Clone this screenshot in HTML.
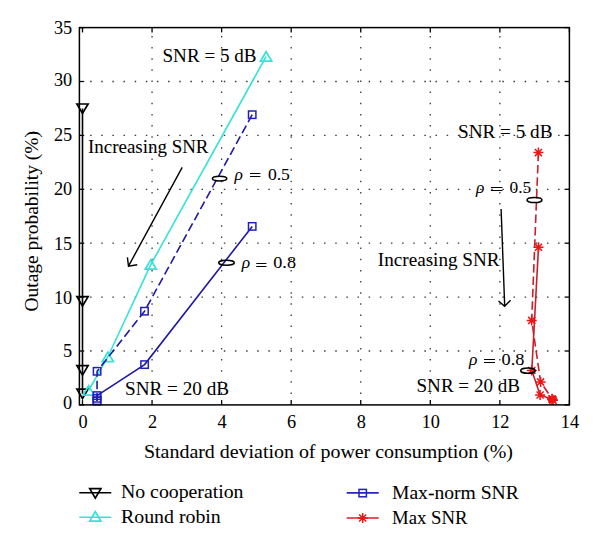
<!DOCTYPE html>
<html><head><meta charset="utf-8"><style>
html,body{margin:0;padding:0;background:#fff;}
svg{display:block;}
text{font-family:"Liberation Serif", serif;fill:#000;stroke:#000;stroke-width:0.05px;}
</style></head><body>
<svg width="600" height="548" viewBox="0 0 600 548">
<rect width="600" height="548" fill="#fff"/>
<path d="M152.06,392.45v1.5M152.06,381.30v1.5M152.06,370.16v1.5M152.06,359.02v1.5M152.06,347.88v1.5M152.06,336.73v1.5M152.06,325.59v1.5M152.06,314.45v1.5M152.06,303.31v1.5M152.06,292.16v1.5M152.06,281.02v1.5M152.06,269.88v1.5M152.06,258.74v1.5M152.06,247.59v1.5M152.06,236.45v1.5M152.06,225.31v1.5M152.06,214.17v1.5M152.06,203.02v1.5M152.06,191.88v1.5M152.06,180.74v1.5M152.06,169.60v1.5M152.06,158.45v1.5M152.06,147.31v1.5M152.06,136.17v1.5M152.06,125.03v1.5M152.06,113.88v1.5M152.06,102.74v1.5M152.06,91.60v1.5M152.06,80.46v1.5M152.06,69.31v1.5M152.06,58.17v1.5M152.06,47.03v1.5M152.06,35.89v1.5M221.62,392.45v1.5M221.62,381.30v1.5M221.62,370.16v1.5M221.62,359.02v1.5M221.62,347.88v1.5M221.62,336.73v1.5M221.62,325.59v1.5M221.62,314.45v1.5M221.62,303.31v1.5M221.62,292.16v1.5M221.62,281.02v1.5M221.62,269.88v1.5M221.62,258.74v1.5M221.62,247.59v1.5M221.62,236.45v1.5M221.62,225.31v1.5M221.62,214.17v1.5M221.62,203.02v1.5M221.62,191.88v1.5M221.62,180.74v1.5M221.62,169.60v1.5M221.62,158.45v1.5M221.62,147.31v1.5M221.62,136.17v1.5M221.62,125.03v1.5M221.62,113.88v1.5M221.62,102.74v1.5M221.62,91.60v1.5M221.62,80.46v1.5M221.62,69.31v1.5M221.62,58.17v1.5M221.62,47.03v1.5M221.62,35.89v1.5M291.18,392.45v1.5M291.18,381.30v1.5M291.18,370.16v1.5M291.18,359.02v1.5M291.18,347.88v1.5M291.18,336.73v1.5M291.18,325.59v1.5M291.18,314.45v1.5M291.18,303.31v1.5M291.18,292.16v1.5M291.18,281.02v1.5M291.18,269.88v1.5M291.18,258.74v1.5M291.18,247.59v1.5M291.18,236.45v1.5M291.18,225.31v1.5M291.18,214.17v1.5M291.18,203.02v1.5M291.18,191.88v1.5M291.18,180.74v1.5M291.18,169.60v1.5M291.18,158.45v1.5M291.18,147.31v1.5M291.18,136.17v1.5M291.18,125.03v1.5M291.18,113.88v1.5M291.18,102.74v1.5M291.18,91.60v1.5M291.18,80.46v1.5M291.18,69.31v1.5M291.18,58.17v1.5M291.18,47.03v1.5M291.18,35.89v1.5M360.74,392.45v1.5M360.74,381.30v1.5M360.74,370.16v1.5M360.74,359.02v1.5M360.74,347.88v1.5M360.74,336.73v1.5M360.74,325.59v1.5M360.74,314.45v1.5M360.74,303.31v1.5M360.74,292.16v1.5M360.74,281.02v1.5M360.74,269.88v1.5M360.74,258.74v1.5M360.74,247.59v1.5M360.74,236.45v1.5M360.74,225.31v1.5M360.74,214.17v1.5M360.74,203.02v1.5M360.74,191.88v1.5M360.74,180.74v1.5M360.74,169.60v1.5M360.74,158.45v1.5M360.74,147.31v1.5M360.74,136.17v1.5M360.74,125.03v1.5M360.74,113.88v1.5M360.74,102.74v1.5M360.74,91.60v1.5M360.74,80.46v1.5M360.74,69.31v1.5M360.74,58.17v1.5M360.74,47.03v1.5M360.74,35.89v1.5M430.30,392.45v1.5M430.30,381.30v1.5M430.30,370.16v1.5M430.30,359.02v1.5M430.30,347.88v1.5M430.30,336.73v1.5M430.30,325.59v1.5M430.30,314.45v1.5M430.30,303.31v1.5M430.30,292.16v1.5M430.30,281.02v1.5M430.30,269.88v1.5M430.30,258.74v1.5M430.30,247.59v1.5M430.30,236.45v1.5M430.30,225.31v1.5M430.30,214.17v1.5M430.30,203.02v1.5M430.30,191.88v1.5M430.30,180.74v1.5M430.30,169.60v1.5M430.30,158.45v1.5M430.30,147.31v1.5M430.30,136.17v1.5M430.30,125.03v1.5M430.30,113.88v1.5M430.30,102.74v1.5M430.30,91.60v1.5M430.30,80.46v1.5M430.30,69.31v1.5M430.30,58.17v1.5M430.30,47.03v1.5M430.30,35.89v1.5M499.86,392.45v1.5M499.86,381.30v1.5M499.86,370.16v1.5M499.86,359.02v1.5M499.86,347.88v1.5M499.86,336.73v1.5M499.86,325.59v1.5M499.86,314.45v1.5M499.86,303.31v1.5M499.86,292.16v1.5M499.86,281.02v1.5M499.86,269.88v1.5M499.86,258.74v1.5M499.86,247.59v1.5M499.86,236.45v1.5M499.86,225.31v1.5M499.86,214.17v1.5M499.86,203.02v1.5M499.86,191.88v1.5M499.86,180.74v1.5M499.86,169.60v1.5M499.86,158.45v1.5M499.86,147.31v1.5M499.86,136.17v1.5M499.86,125.03v1.5M499.86,113.88v1.5M499.86,102.74v1.5M499.86,91.60v1.5M499.86,80.46v1.5M499.86,69.31v1.5M499.86,58.17v1.5M499.86,47.03v1.5M499.86,35.89v1.5M90.09,351.00h1.5M101.23,351.00h1.5M112.38,351.00h1.5M123.52,351.00h1.5M134.66,351.00h1.5M145.81,351.00h1.5M156.95,351.00h1.5M168.09,351.00h1.5M179.23,351.00h1.5M190.38,351.00h1.5M201.52,351.00h1.5M212.66,351.00h1.5M223.80,351.00h1.5M234.94,351.00h1.5M246.09,351.00h1.5M257.23,351.00h1.5M268.37,351.00h1.5M279.51,351.00h1.5M290.66,351.00h1.5M301.80,351.00h1.5M312.94,351.00h1.5M324.08,351.00h1.5M335.23,351.00h1.5M346.37,351.00h1.5M357.51,351.00h1.5M368.65,351.00h1.5M379.80,351.00h1.5M390.94,351.00h1.5M402.08,351.00h1.5M413.22,351.00h1.5M424.37,351.00h1.5M435.51,351.00h1.5M446.65,351.00h1.5M457.80,351.00h1.5M468.94,351.00h1.5M480.08,351.00h1.5M491.22,351.00h1.5M502.37,351.00h1.5M513.51,351.00h1.5M524.65,351.00h1.5M535.79,351.00h1.5M546.94,351.00h1.5M558.08,351.00h1.5M90.09,297.10h1.5M101.23,297.10h1.5M112.38,297.10h1.5M123.52,297.10h1.5M134.66,297.10h1.5M145.81,297.10h1.5M156.95,297.10h1.5M168.09,297.10h1.5M179.23,297.10h1.5M190.38,297.10h1.5M201.52,297.10h1.5M212.66,297.10h1.5M223.80,297.10h1.5M234.94,297.10h1.5M246.09,297.10h1.5M257.23,297.10h1.5M268.37,297.10h1.5M279.51,297.10h1.5M290.66,297.10h1.5M301.80,297.10h1.5M312.94,297.10h1.5M324.08,297.10h1.5M335.23,297.10h1.5M346.37,297.10h1.5M357.51,297.10h1.5M368.65,297.10h1.5M379.80,297.10h1.5M390.94,297.10h1.5M402.08,297.10h1.5M413.22,297.10h1.5M424.37,297.10h1.5M435.51,297.10h1.5M446.65,297.10h1.5M457.80,297.10h1.5M468.94,297.10h1.5M480.08,297.10h1.5M491.22,297.10h1.5M502.37,297.10h1.5M513.51,297.10h1.5M524.65,297.10h1.5M535.79,297.10h1.5M546.94,297.10h1.5M558.08,297.10h1.5M90.09,243.20h1.5M101.23,243.20h1.5M112.38,243.20h1.5M123.52,243.20h1.5M134.66,243.20h1.5M145.81,243.20h1.5M156.95,243.20h1.5M168.09,243.20h1.5M179.23,243.20h1.5M190.38,243.20h1.5M201.52,243.20h1.5M212.66,243.20h1.5M223.80,243.20h1.5M234.94,243.20h1.5M246.09,243.20h1.5M257.23,243.20h1.5M268.37,243.20h1.5M279.51,243.20h1.5M290.66,243.20h1.5M301.80,243.20h1.5M312.94,243.20h1.5M324.08,243.20h1.5M335.23,243.20h1.5M346.37,243.20h1.5M357.51,243.20h1.5M368.65,243.20h1.5M379.80,243.20h1.5M390.94,243.20h1.5M402.08,243.20h1.5M413.22,243.20h1.5M424.37,243.20h1.5M435.51,243.20h1.5M446.65,243.20h1.5M457.80,243.20h1.5M468.94,243.20h1.5M480.08,243.20h1.5M491.22,243.20h1.5M502.37,243.20h1.5M513.51,243.20h1.5M524.65,243.20h1.5M535.79,243.20h1.5M546.94,243.20h1.5M558.08,243.20h1.5M90.09,189.30h1.5M101.23,189.30h1.5M112.38,189.30h1.5M123.52,189.30h1.5M134.66,189.30h1.5M145.81,189.30h1.5M156.95,189.30h1.5M168.09,189.30h1.5M179.23,189.30h1.5M190.38,189.30h1.5M201.52,189.30h1.5M212.66,189.30h1.5M223.80,189.30h1.5M234.94,189.30h1.5M246.09,189.30h1.5M257.23,189.30h1.5M268.37,189.30h1.5M279.51,189.30h1.5M290.66,189.30h1.5M301.80,189.30h1.5M312.94,189.30h1.5M324.08,189.30h1.5M335.23,189.30h1.5M346.37,189.30h1.5M357.51,189.30h1.5M368.65,189.30h1.5M379.80,189.30h1.5M390.94,189.30h1.5M402.08,189.30h1.5M413.22,189.30h1.5M424.37,189.30h1.5M435.51,189.30h1.5M446.65,189.30h1.5M457.80,189.30h1.5M468.94,189.30h1.5M480.08,189.30h1.5M491.22,189.30h1.5M502.37,189.30h1.5M513.51,189.30h1.5M524.65,189.30h1.5M535.79,189.30h1.5M546.94,189.30h1.5M558.08,189.30h1.5M90.09,135.40h1.5M101.23,135.40h1.5M112.38,135.40h1.5M123.52,135.40h1.5M134.66,135.40h1.5M145.81,135.40h1.5M156.95,135.40h1.5M168.09,135.40h1.5M179.23,135.40h1.5M190.38,135.40h1.5M201.52,135.40h1.5M212.66,135.40h1.5M223.80,135.40h1.5M234.94,135.40h1.5M246.09,135.40h1.5M257.23,135.40h1.5M268.37,135.40h1.5M279.51,135.40h1.5M290.66,135.40h1.5M301.80,135.40h1.5M312.94,135.40h1.5M324.08,135.40h1.5M335.23,135.40h1.5M346.37,135.40h1.5M357.51,135.40h1.5M368.65,135.40h1.5M379.80,135.40h1.5M390.94,135.40h1.5M402.08,135.40h1.5M413.22,135.40h1.5M424.37,135.40h1.5M435.51,135.40h1.5M446.65,135.40h1.5M457.80,135.40h1.5M468.94,135.40h1.5M480.08,135.40h1.5M491.22,135.40h1.5M502.37,135.40h1.5M513.51,135.40h1.5M524.65,135.40h1.5M535.79,135.40h1.5M546.94,135.40h1.5M558.08,135.40h1.5M90.09,81.50h1.5M101.23,81.50h1.5M112.38,81.50h1.5M123.52,81.50h1.5M134.66,81.50h1.5M145.81,81.50h1.5M156.95,81.50h1.5M168.09,81.50h1.5M179.23,81.50h1.5M190.38,81.50h1.5M201.52,81.50h1.5M212.66,81.50h1.5M223.80,81.50h1.5M234.94,81.50h1.5M246.09,81.50h1.5M257.23,81.50h1.5M268.37,81.50h1.5M279.51,81.50h1.5M290.66,81.50h1.5M301.80,81.50h1.5M312.94,81.50h1.5M324.08,81.50h1.5M335.23,81.50h1.5M346.37,81.50h1.5M357.51,81.50h1.5M368.65,81.50h1.5M379.80,81.50h1.5M390.94,81.50h1.5M402.08,81.50h1.5M413.22,81.50h1.5M424.37,81.50h1.5M435.51,81.50h1.5M446.65,81.50h1.5M457.80,81.50h1.5M468.94,81.50h1.5M480.08,81.50h1.5M491.22,81.50h1.5M502.37,81.50h1.5M513.51,81.50h1.5M524.65,81.50h1.5M535.79,81.50h1.5M546.94,81.50h1.5M558.08,81.50h1.5" stroke="#3a3a3a" stroke-width="1.3" fill="none"/>
<line x1="82.50" y1="404.9" x2="82.50" y2="400.09999999999997" stroke="#000" stroke-width="1.3"/>
<line x1="82.50" y1="27.6" x2="82.50" y2="32.4" stroke="#000" stroke-width="1.3"/>
<line x1="152.06" y1="404.9" x2="152.06" y2="400.09999999999997" stroke="#000" stroke-width="1.3"/>
<line x1="152.06" y1="27.6" x2="152.06" y2="32.4" stroke="#000" stroke-width="1.3"/>
<line x1="221.62" y1="404.9" x2="221.62" y2="400.09999999999997" stroke="#000" stroke-width="1.3"/>
<line x1="221.62" y1="27.6" x2="221.62" y2="32.4" stroke="#000" stroke-width="1.3"/>
<line x1="291.18" y1="404.9" x2="291.18" y2="400.09999999999997" stroke="#000" stroke-width="1.3"/>
<line x1="291.18" y1="27.6" x2="291.18" y2="32.4" stroke="#000" stroke-width="1.3"/>
<line x1="360.74" y1="404.9" x2="360.74" y2="400.09999999999997" stroke="#000" stroke-width="1.3"/>
<line x1="360.74" y1="27.6" x2="360.74" y2="32.4" stroke="#000" stroke-width="1.3"/>
<line x1="430.30" y1="404.9" x2="430.30" y2="400.09999999999997" stroke="#000" stroke-width="1.3"/>
<line x1="430.30" y1="27.6" x2="430.30" y2="32.4" stroke="#000" stroke-width="1.3"/>
<line x1="499.86" y1="404.9" x2="499.86" y2="400.09999999999997" stroke="#000" stroke-width="1.3"/>
<line x1="499.86" y1="27.6" x2="499.86" y2="32.4" stroke="#000" stroke-width="1.3"/>
<line x1="569.42" y1="404.9" x2="569.42" y2="400.09999999999997" stroke="#000" stroke-width="1.3"/>
<line x1="569.42" y1="27.6" x2="569.42" y2="32.4" stroke="#000" stroke-width="1.3"/>
<line x1="79.4" y1="404.90" x2="84.2" y2="404.90" stroke="#000" stroke-width="1.3"/>
<line x1="569.4" y1="404.90" x2="564.6" y2="404.90" stroke="#000" stroke-width="1.3"/>
<line x1="79.4" y1="351.00" x2="84.2" y2="351.00" stroke="#000" stroke-width="1.3"/>
<line x1="569.4" y1="351.00" x2="564.6" y2="351.00" stroke="#000" stroke-width="1.3"/>
<line x1="79.4" y1="297.10" x2="84.2" y2="297.10" stroke="#000" stroke-width="1.3"/>
<line x1="569.4" y1="297.10" x2="564.6" y2="297.10" stroke="#000" stroke-width="1.3"/>
<line x1="79.4" y1="243.20" x2="84.2" y2="243.20" stroke="#000" stroke-width="1.3"/>
<line x1="569.4" y1="243.20" x2="564.6" y2="243.20" stroke="#000" stroke-width="1.3"/>
<line x1="79.4" y1="189.30" x2="84.2" y2="189.30" stroke="#000" stroke-width="1.3"/>
<line x1="569.4" y1="189.30" x2="564.6" y2="189.30" stroke="#000" stroke-width="1.3"/>
<line x1="79.4" y1="135.40" x2="84.2" y2="135.40" stroke="#000" stroke-width="1.3"/>
<line x1="569.4" y1="135.40" x2="564.6" y2="135.40" stroke="#000" stroke-width="1.3"/>
<line x1="79.4" y1="81.50" x2="84.2" y2="81.50" stroke="#000" stroke-width="1.3"/>
<line x1="569.4" y1="81.50" x2="564.6" y2="81.50" stroke="#000" stroke-width="1.3"/>
<line x1="79.4" y1="27.60" x2="84.2" y2="27.60" stroke="#000" stroke-width="1.3"/>
<line x1="569.4" y1="27.60" x2="564.6" y2="27.60" stroke="#000" stroke-width="1.3"/>
<text x="83.00" y="427.7" font-size="18.3" text-anchor="middle">0</text>
<text x="152.56" y="427.7" font-size="18.3" text-anchor="middle">2</text>
<text x="222.12" y="427.7" font-size="18.3" text-anchor="middle">4</text>
<text x="291.68" y="427.7" font-size="18.3" text-anchor="middle">6</text>
<text x="361.24" y="427.7" font-size="18.3" text-anchor="middle">8</text>
<text x="430.80" y="427.7" font-size="18.3" text-anchor="middle">10</text>
<text x="500.36" y="427.7" font-size="18.3" text-anchor="middle">12</text>
<text x="569.92" y="427.7" font-size="18.3" text-anchor="middle">14</text>
<text x="72.2" y="409.05" font-size="18.3" text-anchor="end">0</text>
<text x="72.2" y="357.35" font-size="18.3" text-anchor="end">5</text>
<text x="72.2" y="304.40" font-size="18.3" text-anchor="end">10</text>
<text x="72.2" y="249.80" font-size="18.3" text-anchor="end">15</text>
<text x="72.2" y="195.30" font-size="18.3" text-anchor="end">20</text>
<text x="72.2" y="141.30" font-size="18.3" text-anchor="end">25</text>
<text x="72.2" y="85.75" font-size="18.3" text-anchor="end">30</text>
<text x="72.2" y="34.05" font-size="18.3" text-anchor="end">35</text>
<polyline points="82.50,108.60 82.50,301.20 82.50,370.30 82.50,393.70" fill="none" stroke="#000" stroke-width="1.6"/>
<path d="M76.90,104.00 L88.10,104.00 L82.50,113.40 Z" fill="none" stroke="#000" stroke-width="1.7" stroke-linejoin="miter"/>
<path d="M76.90,296.60 L88.10,296.60 L82.50,306.00 Z" fill="none" stroke="#000" stroke-width="1.7" stroke-linejoin="miter"/>
<path d="M76.90,365.70 L88.10,365.70 L82.50,375.10 Z" fill="none" stroke="#000" stroke-width="1.7" stroke-linejoin="miter"/>
<path d="M76.90,389.10 L88.10,389.10 L82.50,398.50 Z" fill="none" stroke="#000" stroke-width="1.7" stroke-linejoin="miter"/>
<polyline points="266.10,56.50 150.80,264.60 107.80,357.00 88.60,390.50" fill="none" stroke="#36e2d8" stroke-width="1.6"/>
<path d="M260.50,61.10 L271.70,61.10 L266.10,51.70 Z" fill="none" stroke="#36e2d8" stroke-width="1.7" stroke-linejoin="miter"/>
<path d="M145.20,269.20 L156.40,269.20 L150.80,259.80 Z" fill="none" stroke="#36e2d8" stroke-width="1.7" stroke-linejoin="miter"/>
<path d="M102.20,361.60 L113.40,361.60 L107.80,352.20 Z" fill="none" stroke="#36e2d8" stroke-width="1.7" stroke-linejoin="miter"/>
<path d="M83.00,395.10 L94.20,395.10 L88.60,385.70 Z" fill="none" stroke="#36e2d8" stroke-width="1.7" stroke-linejoin="miter"/>
<polyline points="252.20,114.70 144.50,311.20 97.10,371.30 97.00,400.80" fill="none" stroke="#2018a0" stroke-width="1.6" stroke-dasharray="8.5 3.9"/>
<polyline points="252.20,226.40 144.60,364.60 97.00,395.60 97.00,400.90" fill="none" stroke="#2018a0" stroke-width="1.6"/>
<rect x="248.50" y="111.00" width="7.40" height="7.40" fill="none" stroke="#2020c0" stroke-width="1.5"/>
<rect x="140.80" y="307.50" width="7.40" height="7.40" fill="none" stroke="#2020c0" stroke-width="1.5"/>
<rect x="93.40" y="367.60" width="7.40" height="7.40" fill="none" stroke="#2020c0" stroke-width="1.5"/>
<rect x="93.30" y="397.10" width="7.40" height="7.40" fill="none" stroke="#2020c0" stroke-width="1.5"/>
<rect x="248.50" y="222.70" width="7.40" height="7.40" fill="none" stroke="#2020c0" stroke-width="1.5"/>
<rect x="140.90" y="360.90" width="7.40" height="7.40" fill="none" stroke="#2020c0" stroke-width="1.5"/>
<rect x="93.30" y="391.90" width="7.40" height="7.40" fill="none" stroke="#2020c0" stroke-width="1.5"/>
<rect x="93.30" y="397.20" width="7.40" height="7.40" fill="none" stroke="#2020c0" stroke-width="1.5"/>
<rect x="93.30" y="394.60" width="7.40" height="7.40" fill="none" stroke="#2020c0" stroke-width="1.5"/>
<polyline points="538.40,152.60 531.70,320.40 540.60,381.90 552.40,399.40" fill="none" stroke="#c8202a" stroke-width="1.6" stroke-dasharray="8.5 3.9"/>
<polyline points="538.50,247.30 531.80,370.50 540.10,395.00 552.40,399.40" fill="none" stroke="#c8202a" stroke-width="1.6"/>
<path d="M533.40,152.60L543.40,152.60M534.86,149.06L541.94,156.14M538.40,147.60L538.40,157.60M541.94,149.06L534.86,156.14" stroke="#ee1414" stroke-width="1.5" fill="none"/>
<path d="M526.70,320.40L536.70,320.40M528.16,316.86L535.24,323.94M531.70,315.40L531.70,325.40M535.24,316.86L528.16,323.94" stroke="#ee1414" stroke-width="1.5" fill="none"/>
<path d="M535.60,381.90L545.60,381.90M537.06,378.36L544.14,385.44M540.60,376.90L540.60,386.90M544.14,378.36L537.06,385.44" stroke="#ee1414" stroke-width="1.5" fill="none"/>
<path d="M547.40,399.40L557.40,399.40M548.86,395.86L555.94,402.94M552.40,394.40L552.40,404.40M555.94,395.86L548.86,402.94" stroke="#ee1414" stroke-width="1.5" fill="none"/>
<path d="M533.50,247.30L543.50,247.30M534.96,243.76L542.04,250.84M538.50,242.30L538.50,252.30M542.04,243.76L534.96,250.84" stroke="#ee1414" stroke-width="1.5" fill="none"/>
<path d="M526.80,370.50L536.80,370.50M528.26,366.96L535.34,374.04M531.80,365.50L531.80,375.50M535.34,366.96L528.26,374.04" stroke="#ee1414" stroke-width="1.5" fill="none"/>
<path d="M535.10,395.00L545.10,395.00M536.56,391.46L543.64,398.54M540.10,390.00L540.10,400.00M543.64,391.46L536.56,398.54" stroke="#ee1414" stroke-width="1.5" fill="none"/>
<path d="M547.40,399.40L557.40,399.40M548.86,395.86L555.94,402.94M552.40,394.40L552.40,404.40M555.94,395.86L548.86,402.94" stroke="#ee1414" stroke-width="1.5" fill="none"/>
<path d="M547.00,398.80L557.00,398.80M548.46,395.26L555.54,402.34M552.00,393.80L552.00,403.80M555.54,395.26L548.46,402.34" stroke="#ee1414" stroke-width="1.5" fill="none"/>
<path d="M548.00,400.30L558.00,400.30M549.46,396.76L556.54,403.84M553.00,395.30L553.00,405.30M556.54,396.76L549.46,403.84" stroke="#ee1414" stroke-width="1.5" fill="none"/>
<rect x="79.4" y="27.6" width="490.0" height="377.29999999999995" fill="none" stroke="#000" stroke-width="1.5"/>
<ellipse cx="219.6" cy="178.6" rx="7.2" ry="2.4" fill="none" stroke="#000" stroke-width="1.5"/>
<ellipse cx="226.5" cy="262.7" rx="7.8" ry="2.5" fill="none" stroke="#000" stroke-width="1.5"/>
<ellipse cx="534.5" cy="200" rx="7.5" ry="2.6" fill="none" stroke="#000" stroke-width="1.5"/>
<ellipse cx="528" cy="370.7" rx="7.3" ry="2.6" fill="none" stroke="#000" stroke-width="1.5"/>
<path d="M182.2,167.3 L128.5,266.1 M127.4,257.3 L128.5,266.1 L137.2,264.7" fill="none" stroke="#000" stroke-width="1.4"/>
<path d="M501.1,209 L504.7,306.3 M498.5,301 L504.7,306.3 L510.5,300.3" fill="none" stroke="#000" stroke-width="1.4"/>
<text x="162.5" y="61.5" font-size="19" textLength="94" lengthAdjust="spacingAndGlyphs" text-anchor="start">SNR = 5 dB</text>
<text x="88" y="152.6" font-size="19" textLength="120.5" lengthAdjust="spacingAndGlyphs" text-anchor="start">Increasing SNR</text>
<text x="234.50" y="179.90" font-size="17.5" font-style="italic">ρ</text><path d="M250.00,173.50H260.40M250.00,176.50H260.40" stroke="#000" stroke-width="1.1" fill="none"/><text x="267.90" y="179.90" font-size="17.3" textLength="22.00" lengthAdjust="spacingAndGlyphs">0.5</text>
<text x="241.80" y="268.40" font-size="17.5" font-style="italic">ρ</text><path d="M256.30,263.50H266.40M256.30,266.50H266.40" stroke="#000" stroke-width="1.1" fill="none"/><text x="273.30" y="268.40" font-size="17.3" textLength="22.70" lengthAdjust="spacingAndGlyphs">0.8</text>
<text x="125" y="394.7" font-size="19" textLength="104" lengthAdjust="spacingAndGlyphs" text-anchor="start">SNR = 20 dB</text>
<text x="458" y="137.5" font-size="19" textLength="94.5" lengthAdjust="spacingAndGlyphs" text-anchor="start">SNR = 5 dB</text>
<text x="475.90" y="192.85" font-size="17.5" font-style="italic">ρ</text><path d="M490.90,187.50H502.50M490.90,190.50H502.50" stroke="#000" stroke-width="1.1" fill="none"/><text x="509.60" y="192.85" font-size="17.3" textLength="21.70" lengthAdjust="spacingAndGlyphs">0.5</text>
<text x="377.8" y="266.1" font-size="19" textLength="121.8" lengthAdjust="spacingAndGlyphs" text-anchor="start">Increasing SNR</text>
<text x="469.00" y="364.50" font-size="17.5" font-style="italic">ρ</text><path d="M484.00,359.50H495.00M484.00,362.50H495.00" stroke="#000" stroke-width="1.1" fill="none"/><text x="501.60" y="364.50" font-size="17.3" textLength="22.80" lengthAdjust="spacingAndGlyphs">0.8</text>
<text x="416.5" y="391.8" font-size="19" textLength="103.5" lengthAdjust="spacingAndGlyphs" text-anchor="start">SNR = 20 dB</text>
<text x="144" y="457.5" font-size="19" textLength="369" lengthAdjust="spacingAndGlyphs" text-anchor="start">Standard deviation of power consumption (%)</text>
<text transform="translate(38.4,311.5) rotate(-90)" font-size="19" textLength="180.5" lengthAdjust="spacingAndGlyphs">Outage probability (%)</text>
<line x1="79.3" y1="492.7" x2="111.3" y2="492.7" stroke="#000" stroke-width="1.5"/>
<path d="M89.70,488.70 L100.90,488.70 L95.30,498.10 Z" fill="none" stroke="#000" stroke-width="1.7" stroke-linejoin="miter"/>
<text x="121" y="498" font-size="19" textLength="122.5" lengthAdjust="spacingAndGlyphs" text-anchor="start">No cooperation</text>
<line x1="79.3" y1="517.3" x2="111.3" y2="517.3" stroke="#36e2d8" stroke-width="1.5"/>
<path d="M89.70,521.10 L100.90,521.10 L95.30,511.70 Z" fill="none" stroke="#36e2d8" stroke-width="1.7" stroke-linejoin="miter"/>
<text x="121" y="522.7" font-size="19" textLength="99.8" lengthAdjust="spacingAndGlyphs" text-anchor="start">Round robin</text>
<line x1="346.7" y1="492.9" x2="378.7" y2="492.9" stroke="#2424c4" stroke-width="1.6"/>
<rect x="359.00" y="489.40" width="7.40" height="7.40" fill="none" stroke="#2020c0" stroke-width="1.5"/>
<text x="392" y="498.7" font-size="19" textLength="126.8" lengthAdjust="spacingAndGlyphs" text-anchor="start">Max-norm SNR</text>
<line x1="346.7" y1="518" x2="378.7" y2="518" stroke="#dc1c22" stroke-width="1.6"/>
<path d="M357.70,518.00L367.70,518.00M359.16,514.46L366.24,521.54M362.70,513.00L362.70,523.00M366.24,514.46L359.16,521.54" stroke="#ee1414" stroke-width="1.5" fill="none"/>
<text x="392" y="523.5" font-size="19" textLength="75.5" lengthAdjust="spacingAndGlyphs" text-anchor="start">Max SNR</text>
</svg>
</body></html>
